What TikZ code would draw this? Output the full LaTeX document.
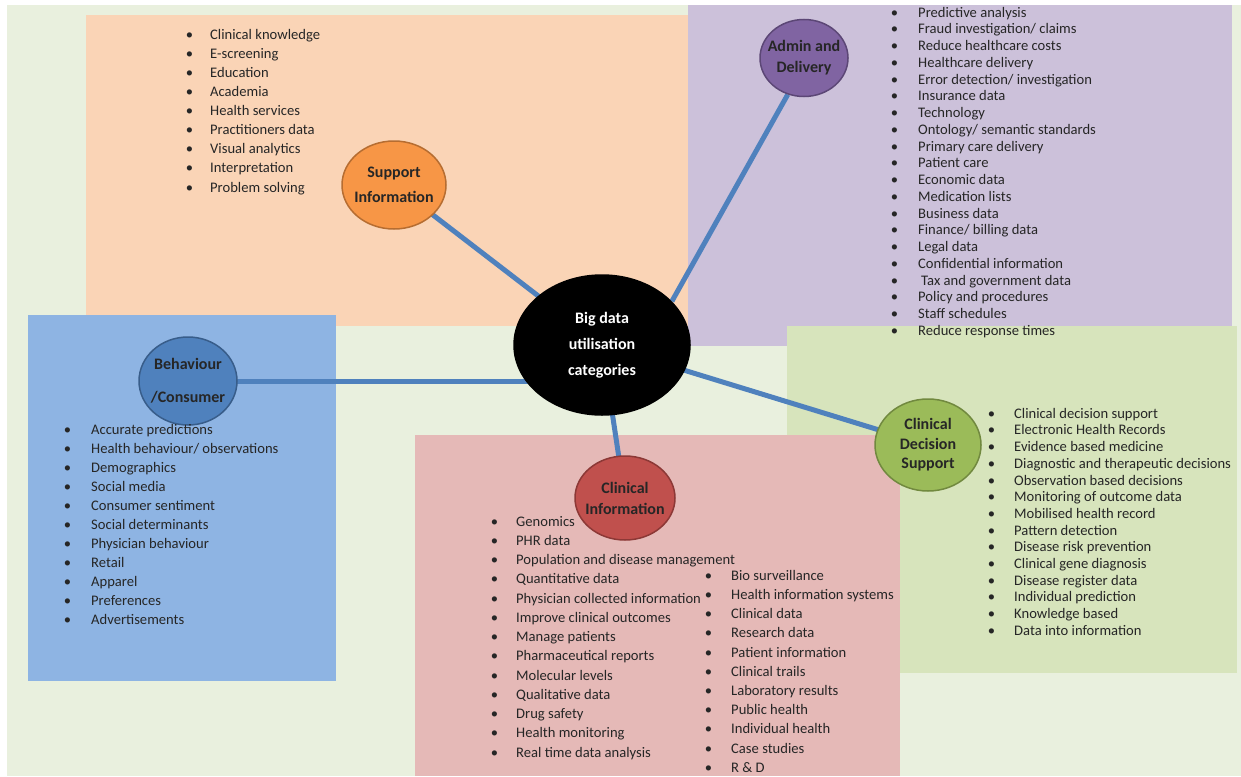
\documentclass[tikz,border=0pt]{standalone}
\usepackage{fontspec}
\setmainfont{Carlito}
\usetikzlibrary{shapes.geometric}
\definecolor{bgc}{HTML}{E9F0DE}
\definecolor{peach}{HTML}{FAD4B6}
\definecolor{purp}{HTML}{CCC1DA}
\definecolor{blueb}{HTML}{8EB4E3}
\definecolor{pinkb}{HTML}{E5B9B7}
\definecolor{greenb}{HTML}{D7E4BC}
\definecolor{conc}{HTML}{4F81BD}
\definecolor{txt}{HTML}{262626}
\definecolor{orf}{HTML}{F79646}\definecolor{ord}{HTML}{B66D31}
\definecolor{puf}{HTML}{8064A2}\definecolor{pud}{HTML}{5C4776}
\definecolor{blf}{HTML}{4F81BD}\definecolor{bld}{HTML}{385D8A}
\definecolor{ref}{HTML}{C0504D}\definecolor{red}{HTML}{8C3836}
\definecolor{grf}{HTML}{9BBB59}\definecolor{grd}{HTML}{71893F}
\pgfdeclarelayer{boxes}
\pgfdeclarelayer{conn}
\pgfsetlayers{boxes,conn,main}
\tikzset{
  item/.style={anchor=west, inner sep=0pt, text=txt, font=\fontsize{14.6}{16}\selectfont},
  circ/.style={ellipse, draw, line width=1.5pt, inner sep=0pt},
  ctext/.style={align=center, text=txt, inner sep=0pt},
  connline/.style={conc, line width=5pt},
}
\newcommand{\bulletlist}[6]{%
  \pgfmathsetmacro{\gapw}{#3-#2+2.4}%
  \foreach \t [count=\i from 0] in {#6}{%
    \node[item] (#1\i) at ({#2-2.4},{#4+\i*#5}) {\makebox[\gapw pt][l]{\textbullet}\strut\t};
  }%
}
\begin{document}
\begin{tikzpicture}[x=1pt,y=-1pt]
\useasboundingbox (0,0) rectangle (1241,776);
\begin{pgfonlayer}{boxes}
\fill[white] (0,0) rectangle (1241,776);
\fill[bgc] (7,5) rectangle (1241,776);
\fill[peach] (86,15) rectangle (688,326);
\fill[purp] (688,5) rectangle (1232,346);
\fill[greenb] (787,326) rectangle (1237,673);
\fill[blueb] (28,315) rectangle (336,681);
\fill[pinkb] (415,435) rectangle (900,776);
\end{pgfonlayer}

% circles
\node[circ, fill=black, draw=black, minimum width=176pt, minimum height=140pt] (big) at (602,345) {};
\node[ctext, text=white, font=\fontsize{16}{26}\selectfont\bfseries] (bigt) at (big) {Big data\\utilisation\\categories};

\node[circ, fill=orf, draw=ord, minimum width=104pt, minimum height=88pt] (sup) at (394,185) {};
\node[ctext, font=\fontsize{16}{25}\selectfont\bfseries] (supt) at (sup) {Support\\Information};

\node[circ, fill=puf, draw=pud, minimum width=88pt, minimum height=77pt] (adm) at (804,58) {};
\node[ctext, font=\fontsize{16}{21}\selectfont\bfseries] (admt) at (adm) {Admin and\\Delivery};

\node[circ, fill=blf, draw=bld, minimum width=98pt, minimum height=88pt] (beh) at (188,381) {};
\node[ctext, font=\fontsize{16}{33}\selectfont\bfseries] (beht) at (beh) {Behaviour\\/Consumer};

\node[circ, fill=ref, draw=red, minimum width=100pt, minimum height=84pt] (cli) at (625,498) {};
\node[ctext, font=\fontsize{16}{21}\selectfont\bfseries] (clit) at (cli) {Clinical\\Information};

\node[circ, fill=grf, draw=grd, minimum width=106pt, minimum height=92pt] (cds) at (928,445) {};
\node[ctext, font=\fontsize{16}{19.5}\selectfont\bfseries] (cdst) at (cds) {Clinical\\Decision\\Support};

% connectors
\begin{pgfonlayer}{conn}
\draw[connline] (big.center) -- (sup.center);
\draw[connline] (big.32) -- (adm.246);
\draw[connline] (beh.center) -- (beh.center -| big.center);
\draw[connline] (big.center) -- (cli.center);
\draw[connline] (big.center) -- (cds.center);
\end{pgfonlayer}

% lists
\bulletlist{sl}{188}{210}{36}{19.1}{Clinical knowledge,E-screening,Education,Academia,Health services,Practitioners data,Visual analytics,Interpretation,Problem solving}
\bulletlist{al}{893}{918}{14}{16.74}{Predictive analysis,Fraud investigation/ claims,Reduce healthcare costs,Healthcare delivery,Error detection/ investigation,Insurance data,Technology,Ontology/ semantic standards,Primary care delivery,Patient care,Economic data,Medication lists,Business data,Finance/ billing data,Legal data,Confidential information,\hspace{3pt}Tax and government data,Policy and procedures,Staff schedules,Reduce response times}
\bulletlist{bl}{66}{91}{431}{19}{Accurate predictions,Health behaviour/ observations,Demographics,Social media,Consumer sentiment,Social determinants,Physician behaviour,Retail,Apparel,Preferences,Advertisements}
\bulletlist{cl}{493}{516}{523}{19.25}{Genomics,PHR data,Population and disease management,Quantitative data,Physician collected information,Improve clinical outcomes,Manage patients,Pharmaceutical reports,Molecular levels,Qualitative data,Drug safety,Health monitoring,Real time data analysis}
\bulletlist{cr}{707}{731}{577}{19.2}{Bio surveillance,Health information systems,Clinical data,Research data,Patient information,Clinical trails,Laboratory results,Public health,Individual health,Case studies,R \& D}
\bulletlist{dl}{990}{1014}{415}{16.7}{Clinical decision support,Electronic Health Records,Evidence based medicine,Diagnostic and therapeutic decisions,Observation based decisions,Monitoring of outcome data,Mobilised health record,Pattern detection,Disease risk prevention,Clinical gene diagnosis,Disease register data,Individual prediction,Knowledge based,Data into information}
\end{tikzpicture}
\end{document}
